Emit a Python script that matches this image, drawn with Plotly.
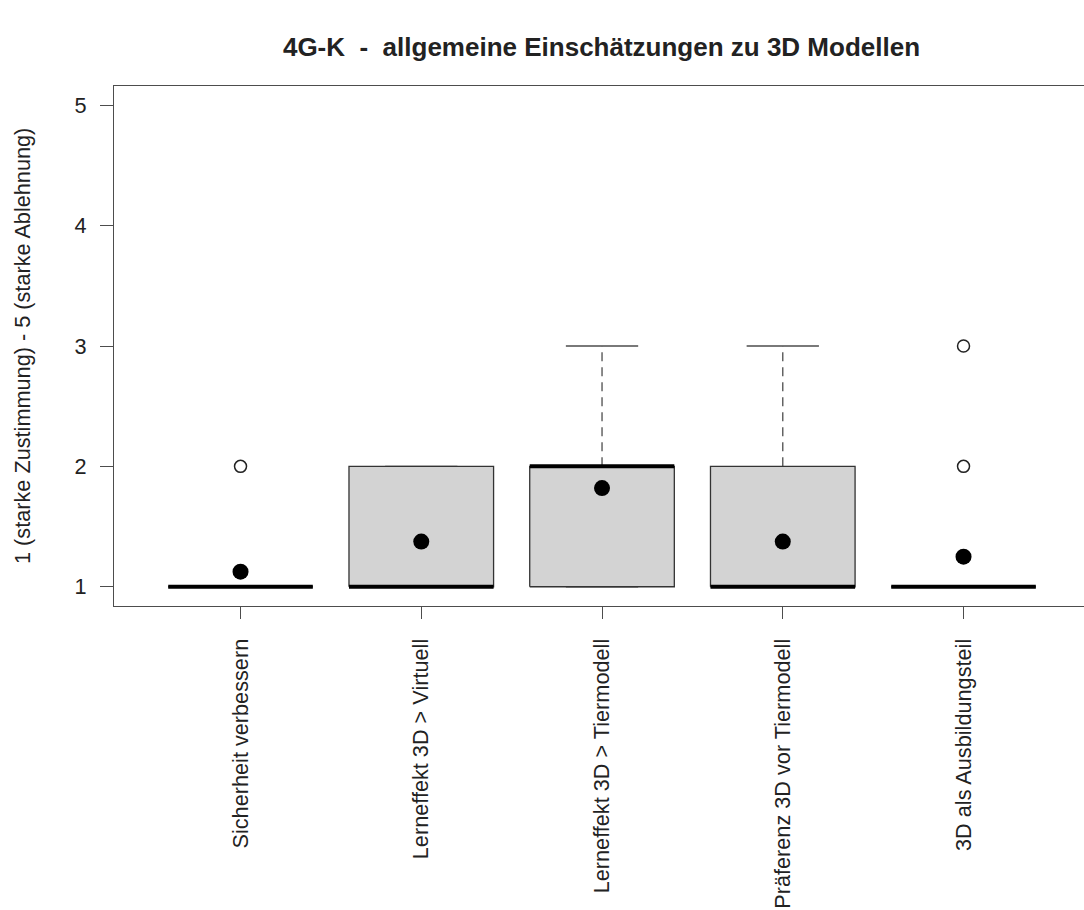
import plotly.graph_objects as go

# Survey items (x axis) and the box statistics per item (1 = starke Zustimmung, 5 = starke Ablehnung)
categories = [
    "Sicherheit verbessern",
    "Lerneffekt 3D > Virtuell",
    "Lerneffekt 3D > Tiermodell",
    "Präferenz 3D vor Tiermodell",
    "3D als Ausbildungsteil",
]
lower_whisker = [1, 1, 1, 1, 1]
q1 = [1, 1, 1, 1, 1]
median = [1, 1, 2, 1, 1]
q3 = [1, 2, 2, 2, 1]
upper_whisker = [1, 2, 3, 3, 1]
means = [1.125, 1.375, 1.82, 1.375, 1.25]
outliers = [[2], [], [], [], [2, 3]]
y_ticks = [1, 2, 3, 4, 5]

FONT = "Liberation Sans, Arial, sans-serif"
TEXT = "#222222"
LINE = "#4d4d4d"
HALF_BOX = 0.4
HALF_STAPLE = 0.2

positions = list(range(1, len(categories) + 1))
fig = go.Figure()

for pos, lo, a, med, b, hi in zip(positions, lower_whisker, q1, median, q3, upper_whisker):
    # whiskers (dashed) and staples
    if hi > b:
        fig.add_trace(go.Scatter(x=[pos, pos], y=[b, hi], mode="lines",
                                 line=dict(color=LINE, width=1.3, dash="9px,6px"),
                                 hoverinfo="skip", showlegend=False))
    if lo < a:
        fig.add_trace(go.Scatter(x=[pos, pos], y=[lo, a], mode="lines",
                                 line=dict(color=LINE, width=1.3, dash="9px,6px"),
                                 hoverinfo="skip", showlegend=False))
    for w in (lo, hi):
        fig.add_trace(go.Scatter(x=[pos - HALF_STAPLE, pos + HALF_STAPLE], y=[w, w], mode="lines",
                                 line=dict(color=LINE, width=1.3),
                                 hoverinfo="skip", showlegend=False))
    # box
    fig.add_trace(go.Scatter(
        x=[pos - HALF_BOX, pos + HALF_BOX, pos + HALF_BOX, pos - HALF_BOX, pos - HALF_BOX],
        y=[a, a, b, b, a], mode="lines", fill="toself", fillcolor="#d3d3d3",
        line=dict(color="#333333", width=1.3), hoverinfo="skip", showlegend=False))
    # median
    fig.add_trace(go.Scatter(x=[pos - HALF_BOX, pos + HALF_BOX], y=[med, med], mode="lines",
                             line=dict(color="black", width=4),
                             hoverinfo="skip", showlegend=False))

# outliers as open circles
out_x = [pos for pos, vals in zip(positions, outliers) for _ in vals]
out_y = [v for vals in outliers for v in vals]
fig.add_trace(go.Scatter(x=out_x, y=out_y, mode="markers",
                         marker=dict(symbol="circle-open", size=12, color="#222222",
                                     line=dict(width=1.5)),
                         hoverinfo="skip", showlegend=False))

# means as filled dots
fig.add_trace(go.Scatter(x=positions, y=means, mode="markers",
                         marker=dict(symbol="circle", size=16, color="black"),
                         showlegend=False))

plot_left = 114
plot_width = 1084 - plot_left
unit = 180.75

fig.update_layout(
    width=1084, height=910,
    margin=dict(l=plot_left, r=0, t=86, b=304),
    paper_bgcolor="white", plot_bgcolor="white",
    font=dict(family=FONT, size=21.7, color=TEXT),
    title=dict(text="<b>4G-K  -  allgemeine Einschätzungen zu 3D Modellen</b>",
               x=601.5 / 1084, xanchor="center", xref="container",
               y=1 - 47 / 910, yanchor="middle", yref="container",
               font=dict(family=FONT, size=26, color=TEXT)),
    xaxis=dict(range=[0.3, 0.3 + plot_width / unit], tickmode="array",
               tickvals=positions, ticktext=categories, tickangle=-90,
               ticks="outside", ticklen=12, tickcolor=LINE, tickwidth=1,
               showline=True, mirror=True, linecolor=LINE, linewidth=1.2,
               showgrid=False, zeroline=False, ticklabelstandoff=11,
               tickfont=dict(family=FONT, size=21.7, color=TEXT)),
    yaxis=dict(range=[0.84, 5.16], tickmode="array", tickvals=y_ticks,
               ticktext=[str(t) for t in y_ticks],
               ticks="outside", ticklen=13, tickcolor=LINE, tickwidth=1,
               showline=True, mirror=False, linecolor=LINE, linewidth=1.2,
               showgrid=False, zeroline=False, ticklabelstandoff=9,
               tickfont=dict(family=FONT, size=21.7, color=TEXT)),
    annotations=[dict(text="1 (starke Zustimmung) - 5 (starke Ablehnung)",
                      xref="paper", yref="paper", x=(22 - plot_left) / plot_width, y=0.5,
                      xanchor="center", yanchor="middle", textangle=-90, showarrow=False,
                      font=dict(family=FONT, size=21.7, color=TEXT))],
)

fig.write_html("out.html")
